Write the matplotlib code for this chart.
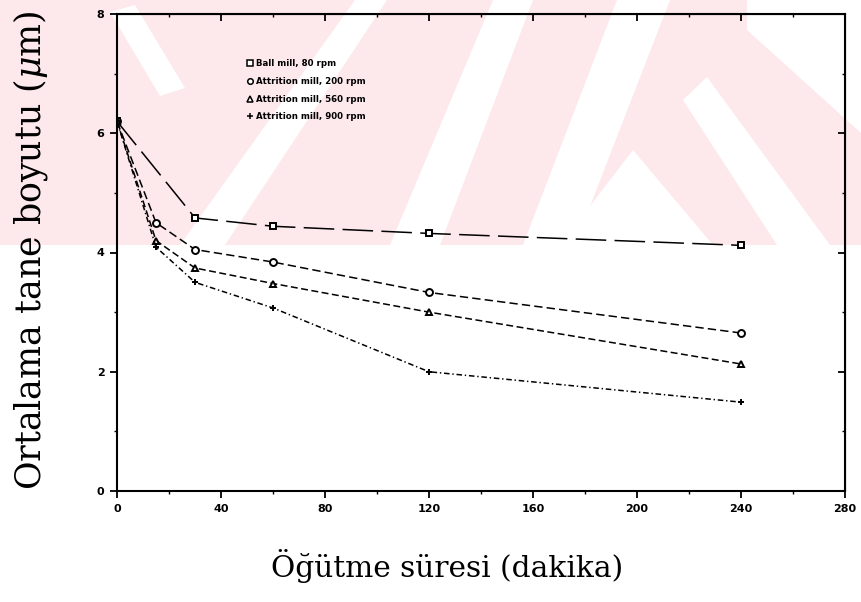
import numpy as np
import matplotlib.pyplot as plt
from matplotlib.patches import Polygon
from matplotlib.lines import Line2D

plt.rcParams['mathtext.fontset'] = 'dejavuserif'
plt.rcParams['lines.scale_dashes'] = False

# data
times_ball = [0, 30, 60, 120, 240]
ball_80 = [6.2, 4.58, 4.44, 4.32, 4.12]

times_att = [0, 15, 30, 60, 120, 240]
att_200 = [6.2, 4.5, 4.05, 3.84, 3.33, 2.65]
att_560 = [6.2, 4.2, 3.74, 3.48, 3.0, 2.13]
att_900 = [6.2, 4.09, 3.5, 3.07, 2.0, 1.49]

labels = ["Ball mill, 80 rpm", "Attrition mill, 200 rpm",
          "Attrition mill, 560 rpm", "Attrition mill, 900 rpm"]

W, H = 861, 602
fig = plt.figure(figsize=(W / 100, H / 100), dpi=100)

# faint pink watermark band at the top of the page (pixel coords, y from top)
def wm(pts, color):
    p = Polygon([(x, H - y) for x, y in pts], closed=True, transform=None,
                facecolor=color, edgecolor='none', zorder=-10)
    fig.patches.append(p)

pink = '#fde8ec'
wm([(0, 0), (W, 0), (W, 245), (0, 245)], pink)
wm([(180, 245), (225, 245), (387, 0), (355, 0)], 'white')
wm([(390, 245), (440, 245), (533, 0), (493, 0)], 'white')
wm([(523, 245), (575, 245), (670, 0), (617, 0)], 'white')
wm([(560, 245), (633, 150), (713, 245)], 'white')
wm([(683, 100), (707, 77), (830, 245), (777, 245)], 'white')
wm([(747, 0), (W, 0), (W, 133), (747, 30)], 'white')
wm([(110, 12), (135, 5), (185, 88), (160, 96)], 'white')

ax = fig.add_axes([117 / W, 1 - 491 / H, 728 / W, 477 / H])
ax.set_facecolor('none')

mk = dict(markersize=5, markeredgewidth=1.4, markerfacecolor='white',
          markeredgecolor='black', color='black', linewidth=1.1)
ax.plot(times_ball, ball_80, marker='s', dashes=(22, 6), **mk)
ax.plot(times_att, att_200, marker='o', dashes=(6, 3), **mk)
ax.plot(times_att, att_560, marker='^', dashes=(5, 2.5), **mk)
ax.plot(times_att, att_900, marker='+', dashes=(4, 2, 1, 2), **mk)

ax.set_xlim(0, 280)
ax.set_ylim(0, 8)
ax.set_xticks(np.arange(0, 281, 40))
ax.set_yticks([0, 2, 4, 6, 8])
ax.set_xticks(np.arange(0, 281, 20), minor=True)
ax.set_yticks(np.arange(0, 9, 1), minor=True)
ax.tick_params(which='major', direction='out', length=5, width=1.3,
               labelsize=8, pad=4)
ax.tick_params(which='minor', direction='out', length=2.5, width=1)
for lab in ax.get_xticklabels() + ax.get_yticklabels():
    lab.set_fontweight('bold')
for s in ax.spines.values():
    s.set_linewidth(1.5)

top = ax.secondary_xaxis('top')
top.set_xticks(np.arange(0, 281, 40))
top.set_xticks(np.arange(0, 281, 20), minor=True)
top.tick_params(which='major', direction='in', length=5, width=1.3, labeltop=False)
top.tick_params(which='minor', direction='in', length=2.5, width=1)
right = ax.secondary_yaxis('right')
right.set_yticks([0, 2, 4, 6, 8])
right.set_yticks(np.arange(0, 9, 1), minor=True)
right.tick_params(which='major', direction='in', length=5, width=1.3, labelright=False)
right.tick_params(which='minor', direction='in', length=2.5, width=1)

handles = [Line2D([], [], linestyle='none', marker=m, markersize=4,
                  markeredgewidth=1.1, markerfacecolor='white',
                  markeredgecolor='black') for m in ['s', 'o', '^', '+']]
ax.legend(handles, labels, loc='upper left', bbox_to_anchor=(0.175, 0.912),
          frameon=False, handlelength=0.6, handletextpad=0.35,
          labelspacing=1.0, borderaxespad=0,
          prop={'size': 6.2, 'weight': 'bold'})

fig.text(31 / W, 1 - 250 / H, "Ortalama tane boyutu ($\\mu$m)",
         rotation=90, ha='center', va='center', fontsize=25,
         family='DejaVu Serif')
fig.text(447 / W, 1 - 566 / H, "Öğütme süresi (dakika)",
         ha='center', va='center', fontsize=21.3, family='DejaVu Serif')

fig.savefig('out.png', dpi=100)
